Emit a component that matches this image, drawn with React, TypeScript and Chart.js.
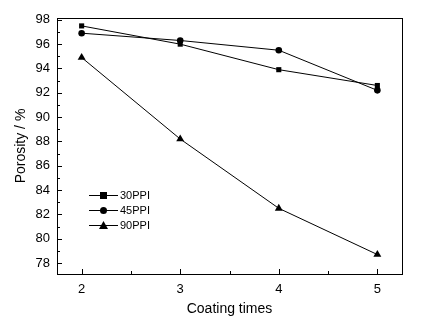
import React, { useEffect, useRef } from "react";
import { Chart, registerables } from "chart.js";

Chart.register(...registerables);

const coatingTimes = [2, 3, 4, 5];
const ppi30 = [97.5, 96.0, 93.9, 92.6];
const ppi45 = [96.9, 96.3, 95.5, 92.2];
const ppi90 = [94.9, 88.2, 82.5, 78.7];
const seriesLabels = ["30PPI", "45PPI", "90PPI"];
const yMajorTicks = [78, 80, 82, 84, 86, 88, 90, 92, 94, 96, 98];
const yMinorTicks = [79, 81, 83, 85, 87, 89, 91, 93, 95, 97];
const xMajorTicks = [2, 3, 4, 5];
const xMinorTicks = [2.5, 3.5, 4.5];

const FONT = "'Liberation Sans', Arial, sans-serif";

export default function App() {
  const ref = useRef<HTMLCanvasElement | null>(null);
  useEffect(() => {
    if (!ref.current) return;
    const mk = (vals: number[]) => coatingTimes.map((x, i) => ({ x, y: vals[i] }));
    const styles = ["rect", "circle", "triangle"];
    const radii = [3.6, 3.3, 4.6];
    const data = [ppi30, ppi45, ppi90];
    const framePlugin = {
      id: "frame",
      afterDraw(chart: any) {
        const { ctx, chartArea: a, scales } = chart;
        ctx.save();
        ctx.strokeStyle = "#000";
        ctx.lineWidth = 1;
        ctx.strokeRect(a.left + 0.5, a.top + 0.5, a.right - a.left, a.bottom - a.top);
        ctx.beginPath();
        yMajorTicks.forEach((v) => {
          const y = Math.round(scales.y.getPixelForValue(v)) + 0.5;
          ctx.moveTo(a.left, y);
          ctx.lineTo(a.left + 5, y);
        });
        yMinorTicks.forEach((v) => {
          const y = Math.round(scales.y.getPixelForValue(v)) + 0.5;
          ctx.moveTo(a.left, y);
          ctx.lineTo(a.left + 3, y);
        });
        xMajorTicks.forEach((v) => {
          const x = Math.round(scales.x.getPixelForValue(v)) + 0.5;
          ctx.moveTo(x, a.bottom);
          ctx.lineTo(x, a.bottom - 5);
        });
        xMinorTicks.forEach((v) => {
          const x = Math.round(scales.x.getPixelForValue(v)) + 0.5;
          ctx.moveTo(x, a.bottom);
          ctx.lineTo(x, a.bottom - 3);
        });
        ctx.stroke();
        // legend
        const rows = [195, 210, 225];
        ctx.font = "11px " + FONT;
        ctx.textBaseline = "middle";
        ctx.fillStyle = "#000";
        chart.data.datasets.forEach((ds: any, i: number) => {
          const y = rows[i] + 0.5;
          const x0 = a.left + 32;
          ctx.beginPath();
          ctx.moveTo(x0, y);
          ctx.lineTo(x0 + 29, y);
          ctx.stroke();
          ctx.fillText(ds.label, x0 + 31, y);
          ctx.beginPath();
          const cx = x0 + 14.5;
          if (i === 0) {
            ctx.fillRect(cx - 3.5, y - 3.5, 7, 7);
          } else if (i === 1) {
            ctx.arc(cx, y, 3.5, 0, Math.PI * 2);
            ctx.fill();
          } else {
            ctx.moveTo(cx, y - 4.5);
            ctx.lineTo(cx + 4.5, y + 3.5);
            ctx.lineTo(cx - 4.5, y + 3.5);
            ctx.closePath();
            ctx.fill();
          }
        });
        ctx.restore();
      },
    };
    const chart = new Chart(ref.current, {
      type: "line",
      data: {
        datasets: data.map((d, i) => ({
          label: seriesLabels[i],
          data: mk(d),
          borderColor: "#000",
          backgroundColor: "#000",
          borderWidth: 1,
          pointStyle: styles[i] as any,
          pointRadius: radii[i],
          pointBorderWidth: 0,
          pointBackgroundColor: "#000",
          tension: 0,
        })),
      },
      options: {
        animation: false,
        responsive: false,
        layout: { padding: { top: 18, right: 19, left: 0, bottom: 0 } },
        plugins: { legend: { display: false }, tooltip: { enabled: false } },
        scales: {
          x: {
            type: "linear",
            min: 1.75,
            max: 5.25,
            afterBuildTicks: (s: any) => {
              s.ticks = xMajorTicks.map((v) => ({ value: v }));
            },
            afterFit: (s: any) => {
              s.height = 51;
            },
            grid: { display: false, drawTicks: false },
            border: { display: false },
            ticks: { color: "#000", padding: 8, font: { family: FONT, size: 13 } },
            title: {
              display: true,
              text: "Coating times",
              color: "#000",
              font: { family: FONT, size: 14 },
              padding: { top: 6, bottom: 7 },
            },
          },
          y: {
            type: "linear",
            min: 77.1,
            max: 98.15,
            afterBuildTicks: (s: any) => {
              s.ticks = yMajorTicks.map((v) => ({ value: v }));
            },
            afterFit: (s: any) => {
              s.width = 57;
            },
            grid: { display: false, drawTicks: false },
            border: { display: false },
            ticks: { color: "#000", padding: 7, font: { family: FONT, size: 13 } },
            title: {
              display: true,
              text: "Porosity / %",
              color: "#000",
              font: { family: FONT, size: 14 },
              padding: { top: 13, bottom: 0 },
            },
          },
        },
      },
      plugins: [framePlugin],
    });
    return () => chart.destroy();
  }, []);
  return (
    <div style={{ position: "fixed", left: 0, top: 0, width: 421, height: 325, background: "#fff" }}>
      <canvas ref={ref} width={421} height={325} style={{ width: 421, height: 325 }} />
    </div>
  );
}
